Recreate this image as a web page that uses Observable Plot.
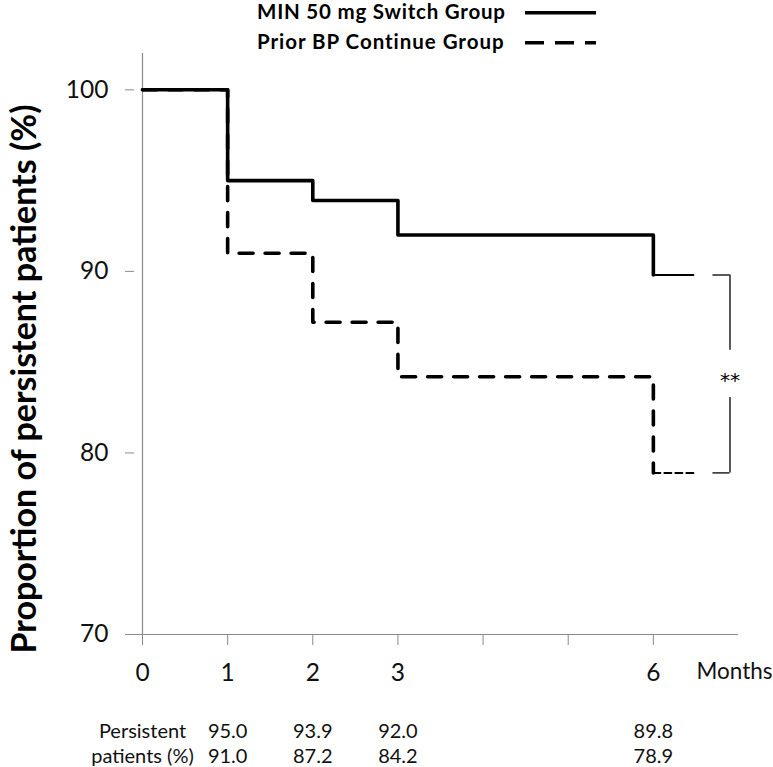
<!DOCTYPE html>
<html><head><meta charset="utf-8">
<script src="https://cdn.jsdelivr.net/npm/d3@7"></script>
<script src="https://cdn.jsdelivr.net/npm/@observablehq/plot@0.6"></script>
<style>
html,body{margin:0;padding:0;background:#fff;}
#wrap{position:relative;width:773px;height:767px;}
#legend{position:absolute;left:0;top:0;}
</style></head><body>
<div id="wrap"></div>
<script>
// ---- data ----
const months = [0, 1, 2, 3, 6];
const switchGroup = [100, 95.0, 93.9, 92.0, 89.8];     // MIN 50 mg Switch Group
const continueGroup = [100, 91.0, 87.2, 84.2, 78.9];   // Prior BP Continue Group
const seriesNames = ["MIN 50 mg Switch Group", "Prior BP Continue Group"];
const followUpEnd = 6.47;
const bracketX = [6.7, 6.9];
const significance = "**";
const xTicks = [0, 1, 2, 3, 4, 5, 6];
const xTickLabels = [0, 1, 2, 3, 6];
const xAxisTitle = "Months";
const yTicks = [70, 80, 90, 100];
const yTitle = "Proportion of persistent patients (%)";
const tableRowLabels = ["Persistent", "patients (%)"];

const xDomain = [-0.094, 7];
const yDomain = [70, 102];
const gray = "#8a8a8a";
const ink = "#111";
const family = "Lato, sans-serif";

// font size that makes a text reach a target width
const ctx = document.createElement("canvas").getContext("2d");
function textWidth(text, weight, size) {
  ctx.font = `${weight} ${size}px Lato`;
  return ctx.measureText(text).width;
}
function fit(text, weight, target) {
  return 100 * target / textWidth(text, weight, 100);
}
const yTitleSize = fit(yTitle, "bold", 550);
const monthsSize = fit(xAxisTitle, "normal", 76);
const legendSize = 20.5;

const pts = vals => months.map((m, i) => ({month: m, value: vals[i]}));
const last = arr => arr[arr.length - 1];
const lastMonth = last(months);
const tail = vals => [{month: lastMonth, value: last(vals)}, {month: followUpEnd, value: last(vals)}];

const topV = last(switchGroup), botV = last(continueGroup), midV = (topV + botV) / 2, gapV = 1.3;

const row = (label, vals) => [{month: months[0], text: label}]
  .concat(months.slice(1).map((m, i) => ({month: m, text: vals[i + 1].toFixed(1)})));

const chart = Plot.plot({
  width: 773, height: 767,
  marginLeft: 134, marginRight: 35, marginTop: 53, marginBottom: 133,
  x: {domain: xDomain},
  y: {domain: yDomain},
  style: {fontFamily: family, fontSize: "24.5px", color: ink, background: "#fff", overflow: "visible"},
  marks: [
    Plot.ruleY([yDomain[0]], {stroke: gray, strokeWidth: 1.2}),
    Plot.ruleX([0], {stroke: gray, strokeWidth: 1.2}),
    Plot.axisY(yTicks, {tickSize: 9, tickPadding: 17, stroke: gray, label: null, fontSize: 24.5}),
    Plot.axisX(xTicks, {tickSize: 11, tickPadding: 18, stroke: gray, label: null, fontSize: 24.5,
      tickFormat: d => xTickLabels.includes(d) ? String(d) : ""}),
    Plot.text([xAxisTitle], {x: xDomain[1], frameAnchor: "bottom", lineAnchor: "top", textAnchor: "start",
      dy: 29, dx: -42, fontSize: monthsSize, fill: ink}),
    // curves
    Plot.line(pts(continueGroup), {x: "month", y: "value", curve: "step-after", stroke: "#000", strokeWidth: 3.6, strokeDasharray: "14,12"}),
    Plot.line(tail(continueGroup), {x: "month", y: "value", stroke: "#000", strokeWidth: 2, strokeDasharray: "7,4"}),
    Plot.line(pts(switchGroup), {x: "month", y: "value", curve: "step-after", stroke: "#000", strokeWidth: 3.6}),
    Plot.line(tail(switchGroup), {x: "month", y: "value", stroke: "#000", strokeWidth: 2}),
    // significance bracket
    Plot.ruleY([topV, botV], {x1: bracketX[0], x2: bracketX[1], stroke: "#000", strokeWidth: 1.3}),
    Plot.ruleX([{a: topV, b: midV + gapV}, {a: midV - gapV, b: botV}], {x: bracketX[1], y1: "a", y2: "b", stroke: "#000", strokeWidth: 1.3}),
    Plot.text([significance], {x: bracketX[1], y: midV, fontSize: 20, fontFamily: "DejaVu Sans", dy: 7, fill: "#000"}),
    // y title
    Plot.text([yTitle], {frameAnchor: "left", rotate: -90, lineAnchor: "top", textAnchor: "middle", dx: -123, dy: 35,
      fontWeight: "bold", fontSize: yTitleSize, fill: "#000"}),
    // table below the chart
    Plot.text(row(tableRowLabels[0], switchGroup), {x: "month", text: "text", frameAnchor: "bottom", lineAnchor: "top", textAnchor: "middle", dy: 89, fontSize: 20, fill: ink}),
    Plot.text(row(tableRowLabels[1], continueGroup), {x: "month", text: "text", frameAnchor: "bottom", lineAnchor: "top", textAnchor: "middle", dy: 114.3, fontSize: 20, fill: ink})
  ]
});
document.getElementById("wrap").appendChild(chart);

// legend overlay
const lg = d3.select("#wrap").append("svg").attr("id", "legend").attr("width", 773).attr("height", 60);
const rows = [{name: seriesNames[0], base: 19, ly: 12.7, dash: null}, {name: seriesNames[1], base: 49, ly: 42.7, dash: "19,11"}];
rows.forEach(r => {
  const natural = textWidth(r.name, "bold", legendSize);
  const spacing = Math.max(0, (248 - natural) / (r.name.length - 1));
  lg.append("text").attr("x", 257).attr("y", r.base).text(r.name)
    .attr("font-family", family).attr("font-weight", "bold").attr("font-size", legendSize)
    .attr("letter-spacing", spacing.toFixed(2)).attr("fill", "#000");
  const ln = lg.append("line").attr("x1", 525).attr("x2", 596).attr("y1", r.ly).attr("y2", r.ly)
    .attr("stroke", "#000").attr("stroke-width", 3.6);
  if (r.dash) ln.attr("stroke-dasharray", r.dash);
});
</script>
</body></html>
